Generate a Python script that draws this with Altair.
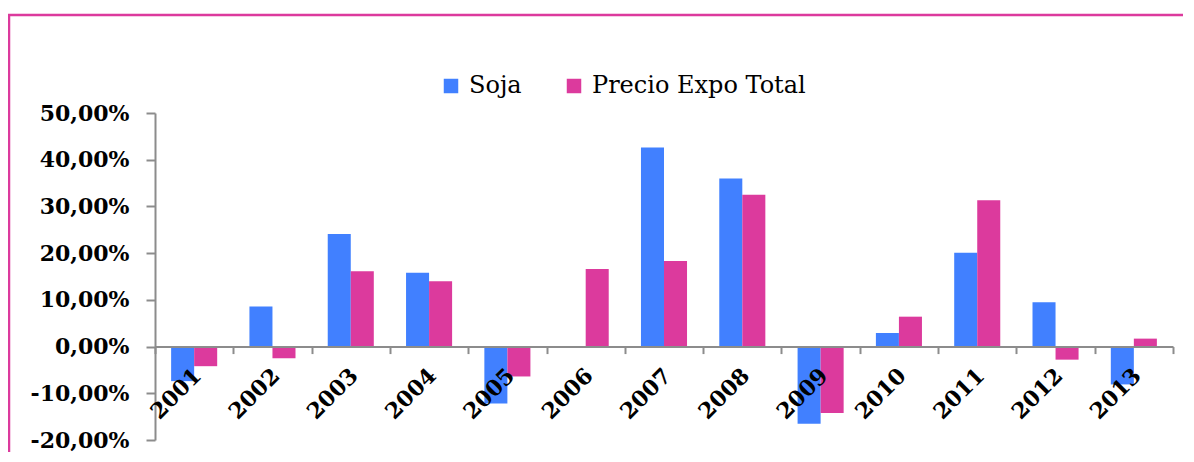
import altair as alt
import pandas as pd

years = ["2001", "2002", "2003", "2004", "2005", "2006", "2007",
         "2008", "2009", "2010", "2011", "2012", "2013"]
soja = [-0.074, 0.086, 0.241, 0.158, -0.122, 0.0, 0.426,
        0.360, -0.165, 0.029, 0.201, 0.095, -0.081]
precio = [-0.042, -0.025, 0.161, 0.140, -0.064, 0.166, 0.183,
          0.325, -0.142, 0.064, 0.313, -0.028, 0.017]
series = ["Soja", "Precio Expo Total"]
colors = ["#4180FF", "#DC3A9D"]

rows = []
for i, y in enumerate(years):
    rows.append({"year": y, "serie": series[0], "value": soja[i]})
    rows.append({"year": y, "serie": series[1], "value": precio[i]})
df = pd.DataFrame(rows)

W, H = 1018, 327
FONT = "DejaVu Serif"

bars = alt.Chart(df).mark_bar().encode(
    x=alt.X("year:N", sort=years, title=None,
            scale=alt.Scale(paddingInner=0, paddingOuter=0),
            axis=alt.Axis(offset=-H * 20 / 70, labelAngle=315, tickBand="extent",
                          domainColor="#8c8c8c", domainWidth=2,
                          tickColor="#8c8c8c", tickWidth=2, tickSize=7,
                          labelFont=FONT, labelFontWeight="bold", labelFontSize=22,
                          labelColor="#000000", labelPadding=11, labelOffset=-4,
                          zindex=1)),
    xOffset=alt.XOffset("serie:N", sort=series,
                        scale=alt.Scale(paddingInner=0, paddingOuter=0.7)),
    y=alt.Y("value:Q", title=None,
            scale=alt.Scale(domain=[-0.2, 0.5], nice=False, zero=False),
            axis=alt.Axis(values=[-0.2, -0.1, 0, 0.1, 0.2, 0.3, 0.4, 0.5],
                          labelExpr="replace(replace(format(datum.value, '.2%'), '.', ','), '\u2212', '-')",
                          grid=False, domainColor="#8c8c8c", domainWidth=2,
                          tickColor="#8c8c8c", tickWidth=2, tickSize=9,
                          labelFont=FONT, labelFontWeight="bold", labelFontSize=22,
                          labelColor="#000000", labelPadding=17)),
    color=alt.Color("serie:N", sort=series,
                    scale=alt.Scale(domain=series, range=colors),
                    legend=alt.Legend(title=None, orient="none", direction="horizontal",
                                      legendX=284, legendY=-39,
                                      symbolType="square", symbolSize=210,
                                      symbolStrokeWidth=0, symbolOpacity=1,
                                      labelFont=FONT, labelFontSize=24, labelLimit=0,
                                      labelColor="#000000", labelOffset=6,
                                      columnPadding=40)),
)

frame = alt.Chart(pd.DataFrame({"a": [0]})).mark_rect(
    fill=None, stroke="#DC3A9D", strokeWidth=2.5
).encode(
    x=alt.value(-146), x2=alt.value(1200),
    y=alt.value(-98), y2=alt.value(400),
)

chart = alt.layer(bars, frame).properties(
    width=W, height=H,
    padding={"left": 147, "top": 105, "right": 10, "bottom": 12},
    autosize=alt.AutoSizeParams(type="none"),
).configure(background="white").configure_view(stroke=None, strokeWidth=0)

chart.save("out.html", embed_options={"renderer": "svg", "actions": False})
